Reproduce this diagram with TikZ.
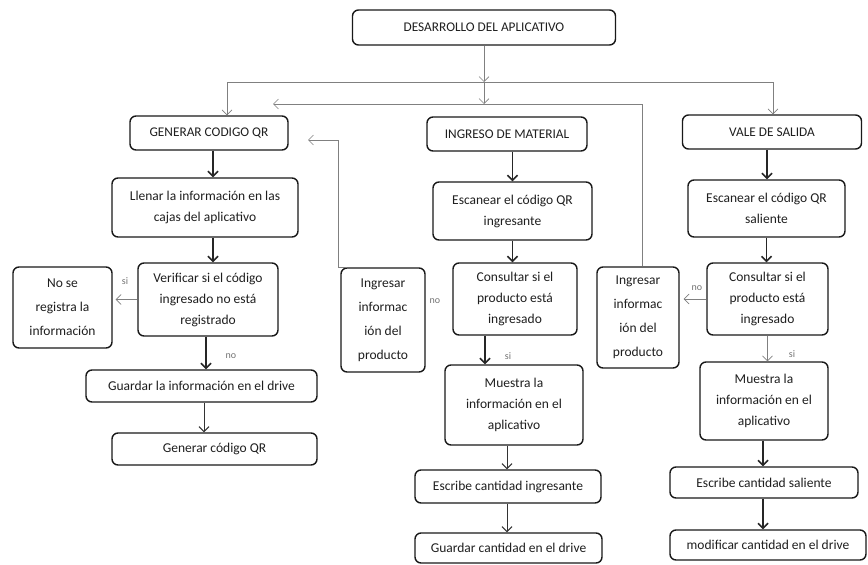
\documentclass[tikz,border=0pt]{standalone}
\usepackage{fontspec}
\setmainfont{Carlito}
\usetikzlibrary{arrows.meta,calc}
\begin{document}
\begin{tikzpicture}[x=1pt,y=-1pt,
  box/.style={draw=black!90, line width=1.4pt, rounded corners=6pt, fill=white,
    inner sep=1pt, align=center, text=black!88,
    font=\fontsize{13.5}{21}\selectfont},
  title/.style={box, font=\fontsize{13.3}{15}\selectfont},
  tall/.style={box, font=\fontsize{13.5}{24}\selectfont},
  thin/.style={draw=black!50, line width=0.6pt, -{Straight Barb[length=5pt,width=10pt]}},
  thick/.style={draw=black!85, line width=1.5pt, -{Straight Barb[length=5pt,width=10pt]}},
  mid/.style={draw=black!80, line width=1pt, -{Straight Barb[length=5pt,width=10pt]}},
  plain/.style={draw=black!50, line width=0.6pt},
  lbl/.style={font=\fontsize{10}{11}\selectfont, text=black!55, inner sep=0pt}
]
\useasboundingbox (0,0) rectangle (868,565);

% top level
\node[title, minimum width=263, minimum height=35] (top) at (484,27.5) {DESARROLLO DEL APLICATIVO};

% branch titles
\node[title, minimum width=158, minimum height=34] (gen)  at (209,133) {GENERAR CODIGO QR};
\node[title, minimum width=160, minimum height=34] (ing)  at (507,134) {INGRESO DE MATERIAL};
\node[title, minimum width=179, minimum height=34] (vale) at (772,132) {VALE DE SALIDA};

% left column
\node[box, minimum width=186, minimum height=59] (llenar) at (205,207.5) {Llenar la información en las\\cajas del aplicativo};
\node[box, minimum width=140, minimum height=73] (ver)    at (208,299.5) {Verificar si el código\\ingresado no está\\registrado};
\node[tall, minimum width=99, minimum height=81] (nose)   at (62.5,307.5) {No se\\registra la\\información};
\node[box, minimum width=231, minimum height=32] (guard1) at (201.5,386) {Guardar la información en el drive};
\node[box, minimum width=205, minimum height=32] (genqr)  at (214.5,449) {Generar código QR};

% middle column
\node[box, minimum width=159, minimum height=58] (esc1)  at (512.5,211) {Escanear el código QR\\ingresante};
\node[box, minimum width=124, minimum height=72] (cons1) at (515,299) {Consultar si el\\producto está\\ingresado};
\node[tall, minimum width=84, minimum height=104] (ingr1) at (383,320) {Ingresar\\informac\\ión del\\producto};
\node[box, minimum width=138, minimum height=80] (mues1) at (514,405) {Muestra la\\información en el\\aplicativo};
\node[box, minimum width=186, minimum height=33] (escr1) at (508,486.5) {Escribe cantidad ingresante};
\node[box, minimum width=187, minimum height=30] (gcant) at (508.5,548) {Guardar cantidad en el drive};

% right column
\node[box, minimum width=157, minimum height=57] (esc2)  at (766.5,208.5) {Escanear el código QR\\saliente};
\node[box, minimum width=121, minimum height=72] (cons2) at (767.5,299) {Consultar si el\\producto está\\ingresado};
\node[tall, minimum width=82, minimum height=101] (ingr2) at (638,317.5) {Ingresar\\informac\\ión del\\producto};
\node[box, minimum width=128, minimum height=78] (mues2) at (764,401) {Muestra la\\información en el\\aplicativo};
\node[box, minimum width=188, minimum height=31] (escr2) at (764,482.5) {Escribe cantidad saliente};
\node[box, minimum width=196, minimum height=30] (modif) at (768,545) {modificar cantidad en el drive};

% distribution bus and return lines
\coordinate (busM) at (484,82);
\coordinate (busL) at (227,82);
\coordinate (busR) at (773,82);
\coordinate (retY) at (484,104);
\coordinate (retEnd) at (273,104);
\coordinate (retCorner) at (642,104);
\coordinate (fbEnd) at (308,140);
\coordinate (fbCorner) at (338,140);

\draw[thin] (top.south) -- (busM);
\draw[plain] (busL) -- (busR);
\draw[thin] (busL) -- (busL |- gen.north);
\draw[thin] (busR) -- (busR |- vale.north);
\draw[thin] (busM) -- (retY);
\draw[thin] (retCorner |- ingr2.north) -- (retCorner) -- (retEnd);
\draw[thin] ([xshift=7pt]ingr1.north west) -- (fbCorner |- ingr1.north) -- (fbCorner) -- (fbEnd);

% left column flow
\draw[thick] ([xshift=4pt]gen.south) -- ([xshift=4pt]gen.south |- llenar.north);
\draw[thick] ([xshift=8pt]llenar.south) -- ([xshift=8pt]llenar.south |- ver.north);
\draw[thin] (ver.west) -- ([xshift=3pt]nose.east |- ver.west);
\node[lbl] (si1) at (125,281) {si};
\draw[thick] ([xshift=-2pt]ver.south) -- ([xshift=-2pt]ver.south |- guard1.north);
\node[lbl] (no1) at (231,356) {no};
\draw[mid] ([xshift=2.5pt]guard1.south) -- ([xshift=2.5pt]guard1.south |- genqr.north);

% middle column flow
\draw[thick] (esc1.north |- ing.south) -- (esc1.north);
\draw[thick] (esc1.south) -- (esc1.south |- cons1.north);
\node[lbl] (no2) at (435,301) {no};
\draw[thick] ([xshift=-30pt]cons1.south) -- ([xshift=-30pt]cons1.south |- mues1.north);
\node[lbl] (si2) at (508,356) {si};
\draw[mid] ([xshift=-7pt]mues1.south) -- ([xshift=-7pt]mues1.south |- escr1.north);
\draw[mid] ([xshift=-1pt]escr1.south) -- ([xshift=-1pt]escr1.south |- gcant.north);

% right column flow
\draw[thick] ([xshift=-5pt]vale.south) -- ([xshift=-5pt]vale.south |- esc2.north);
\draw[thick] (esc2.south) -- (esc2.south |- cons2.north);
\draw[thin] (cons2.west) -- ([xshift=4pt]ingr2.east |- cons2.west);
\node[lbl] (no3) at (697,288) {no};
\draw[thin] (cons2.south) -- (cons2.south |- mues2.north);
\node[lbl] (si3) at (792,354) {si};
\draw[thick] ([xshift=-1pt]mues2.south) -- ([xshift=-1pt]mues2.south |- escr2.north);
\draw[thick] ([xshift=-1pt]escr2.south) -- ([xshift=-5pt]modif.north);
\end{tikzpicture}
\end{document}
